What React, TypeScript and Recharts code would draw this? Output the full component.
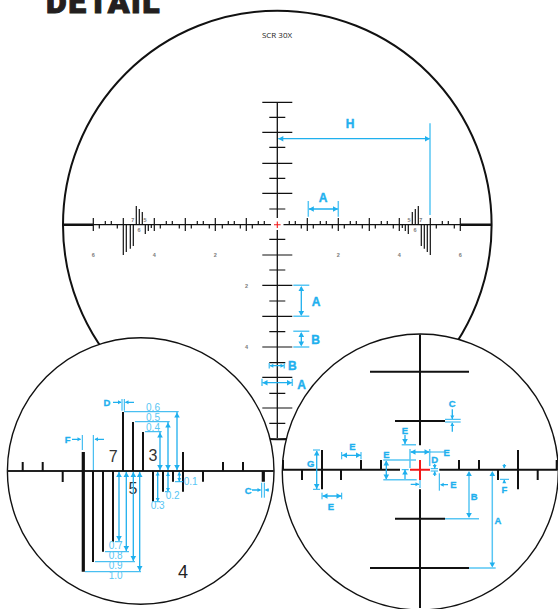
import React from 'react';
import { ComposedChart, Line, Scatter, XAxis, YAxis } from 'recharts';

const W = 558;
const H = 609;
const BLACK = '#111111';
const BLUE = '#1fb0ee';
const LIGHT = '#58c6f4';
const RED = '#f01818';
const GRAY = '#7a7a7a';

type Seg = number[];

// Main reticle: x / y marks, read in picture units
const mainMajorX = [93.3, 123.3, 154.3, 185.3, 215.3, 246.3, 307.3, 338.3, 369.3, 399.3, 430.3, 460.3];
const mainUpX = [105.3, 111.3, 166.3, 172.3, 197.3, 203.3, 228.3, 234.3, 258.3, 264.3, 289.3, 295.3, 320.3, 326.3, 350.3, 356.3, 381.3, 387.3, 442.3, 448.3];
const mainDownX = [99.3, 117.3, 160.3, 179.3, 191.3, 209.3, 222.3, 240.3, 252.3, 301.3, 313.3, 332.3, 344.3, 362.3, 375.3, 393.3, 436.3, 454.3];
const mainLongY = [102.3, 132.3, 163.3, 193.3, 255, 285.3, 316.3, 347, 377.3, 408];
const mainShortY = [117.3, 147.3, 178.3, 209, 239.3, 270, 301, 331.7, 362.7, 393.3, 423.3];
const mainFineUp: Seg[] = [[136.3, 206], [139.3, 209], [142.3, 212], [412.3, 212], [415.3, 209], [418.3, 206]];
const mainFineDown: Seg[] = [[151.3, 228], [148.3, 231], [145.3, 234], [133.3, 246], [130.3, 248.7], [126.3, 252], [123.3, 255], [402.3, 228], [405.3, 231], [408.3, 234], [421.3, 246], [424.3, 248.7], [427.3, 252], [430.3, 255]];
const mainFrame: Seg[] = [[63, 224.7, 271, 224.7], [283.5, 224.7, 491.5, 224.7], [277.3, 102.3, 277.3, 218], [277.3, 230, 277.3, 438]];
const mainHeavy: Seg[] = [[63, 224.7, 93.3, 224.7], [460.3, 224.7, 491.5, 224.7]];
const mainRed: Seg[] = [[274, 224.7, 280.6, 224.7], [277.3, 221.5, 277.3, 228]];

// Left inset
const leftAxis: Seg[] = [[7.5, 471, 274, 471]];
const leftFine: Seg[] = [
  [22.7, 462, 22.7, 471], [42.7, 462, 42.7, 471], [62.7, 471, 62.7, 482],
  [93, 471, 93, 562], [103, 471, 103, 551.7], [113, 471, 113, 541.7],
  [123, 412, 123, 471], [133, 422, 133, 471], [143, 432, 143, 471],
  [153, 471, 153, 501.7], [163, 471, 163, 491.7], [173, 471, 173, 481.7],
  [183, 452, 183, 491.7], [203, 471, 203, 481.7], [223, 462, 223, 471], [243, 462, 243, 471],
];
const leftBold: Seg[] = [[83.3, 452, 83.3, 571.7], [263.3, 471, 263.3, 481.7]];

// Right inset
const rightAxis: Seg[] = [[282.5, 469.7, 400, 469.7], [439.3, 469.7, 557.5, 469.7], [420, 334.5, 420, 445.3], [420, 489.3, 420, 608]];
const rightBars: Seg[] = [[370, 371.7, 469, 371.7], [395, 421, 445, 421], [395, 518.7, 445, 518.7], [370, 568, 469, 568]];
const rightTicks: Seg[] = [
  [283, 460, 283, 470], [302, 470, 302, 480], [322, 450, 322, 489.3], [341, 470, 341, 480], [361, 460, 361, 470], [381, 460, 381, 470],
  [459, 460, 459, 470], [479, 460, 479, 470], [498, 470, 498, 480], [518, 450, 518, 489.3], [537.7, 470, 537.7, 480], [556.7, 460, 556.7, 470],
];
const rightRed: Seg[] = [[410, 469.7, 430, 469.7], [420, 460, 420, 480]];

// Blue dimension lines
const dimStrong: Seg[] = [
  [278.3, 138.7, 430, 138.7], [308.3, 209, 338.3, 209], [301.3, 287, 301.3, 315], [301.3, 333, 301.3, 345],
  [269.3, 365.7, 284.3, 365.7], [262, 382.7, 292.3, 382.7],
  [177, 412, 177, 470], [168, 422, 168, 470], [160, 432, 160, 470], [179.3, 472, 179.3, 481.7], [168, 472, 168, 491], [157.7, 472, 157.7, 501],
  [119, 472, 119, 541], [126.3, 472, 126.3, 551], [133.3, 472, 133.3, 561], [139.7, 472, 139.7, 571],
  [113, 402.3, 121, 402.3], [125.5, 402.3, 134, 402.3], [72, 439.3, 80.5, 439.3], [95, 439.3, 104, 439.3], [252, 490, 260.5, 490], [265.5, 490, 269, 490],
  [316.7, 451, 316.7, 489], [342, 455.3, 361, 455.3], [322.5, 496, 341.5, 496], [386.3, 461, 386.3, 479],
  [405, 435, 405, 444], [410.5, 452, 429.5, 452], [405, 469.5, 405, 479.3], [410.7, 484.3, 419, 484.3], [440.7, 484.7, 448, 484.7],
  [434.7, 464, 434.7, 468.5], [434.7, 471.5, 434.7, 476], [452.3, 409.3, 452.3, 419], [452.3, 423, 452.3, 431.7],
  [504.3, 464, 504.3, 468], [504.3, 480, 504.3, 483],
];
const dimLight: Seg[] = [
  [430, 123.3, 430, 215], [308.3, 201, 308.3, 216.7], [338.3, 201, 338.3, 216.7],
  [293.3, 285.3, 309.3, 285.3], [293.3, 316.3, 309.3, 316.3], [293.3, 331.3, 309.3, 331.3], [293.3, 347, 309.3, 347],
  [269.3, 363, 269.3, 368.5], [284.3, 363, 284.3, 368.5], [262, 378.7, 262, 386], [292.3, 378.7, 292.3, 386],
  [410, 449, 410, 468], [429.7, 449, 429.7, 466],
  [383.3, 460, 416, 460], [383.3, 479.7, 416.7, 479.7], [401.7, 444.7, 416, 444.7],
  [445, 518.7, 479, 518.7], [469, 568, 495.7, 568], [469, 473, 469, 517], [492.3, 473, 492.3, 566],
];
const dimFine: Seg[] = [
  [124, 411.7, 178.7, 411.7], [135, 421.7, 169.7, 421.7], [145, 431.7, 161.7, 431.7],
  [175, 481.7, 183, 481.7], [165, 491.7, 170, 491.7], [155, 501.7, 160, 501.7],
  [115, 541.7, 122, 541.7], [105, 551.7, 129, 551.7], [95, 561.7, 135, 561.7], [85, 571.7, 141, 571.7],
  [122, 399, 122, 410.7], [124.3, 399, 124.3, 410.7], [82.3, 435, 82.3, 450], [93.3, 435, 93.3, 470],
  [261.7, 482.7, 261.7, 497.7], [264.3, 482.7, 264.3, 497.7],
  [313, 450, 320, 450], [313, 489.3, 320, 489.3],
  [341.7, 452, 341.7, 459.3], [361, 452, 361, 459.3], [322, 492.7, 322, 499.3], [341.7, 492.7, 341.7, 499.3],
  [430, 452, 445, 452], [401.7, 469.7, 408.7, 469.7], [420, 480, 420, 488], [439.3, 473.3, 439.3, 490.7],
  [430.7, 468.7, 438, 468.7], [430.7, 471, 438, 471], [445, 419.3, 460.7, 419.3], [445, 422, 460.7, 422], [500, 479.3, 509, 479.3],
];

// Arrow heads: x, y, direction in degrees (0 = pointing right)
const bigHeads: Seg[] = [
  [278.3, 138.7, 180], [430, 138.7, 0], [308.8, 209, 180], [338, 209, 0], [301.3, 286, 270], [301.3, 316, 90], [301.3, 332, 270], [301.3, 346.5, 90],
  [262.5, 382.7, 180], [292, 382.7, 0], [316.7, 450.5, 270], [316.7, 489, 90], [342, 455.3, 180], [361, 455.3, 0], [322.5, 496, 180], [341.5, 496, 0],
  [386.3, 460.5, 270], [386.3, 479.5, 90], [405, 444, 90], [410.5, 452, 180], [429.5, 452, 0], [405, 469.5, 270],
  [469, 471, 270], [469, 518, 90], [492.3, 471, 270], [492.3, 567.5, 90], [177, 412.5, 270], [177, 470, 90], [168, 422.5, 270], [168, 470, 90],
  [160, 432.5, 270], [160, 470, 90], [119, 472, 270], [119, 541, 90], [126.3, 472, 270], [126.3, 551, 90], [133.3, 472, 270], [133.3, 561, 90], [139.7, 472, 270], [139.7, 571, 90],
];
const smallHeads: Seg[] = [
  [269.8, 365.7, 180], [284, 365.7, 0], [121.5, 402.3, 0], [125, 402.3, 180], [81, 439.3, 0], [94.5, 439.3, 180], [261, 490, 0], [265, 490, 180],
  [179.3, 472, 270], [179.3, 481.5, 90], [168, 472.5, 270], [168, 491.5, 90], [157.7, 472, 270], [157.7, 501.5, 90],
  [419, 484.3, 0], [440.2, 484.7, 180], [434.7, 468.5, 90], [434.7, 471.2, 270], [452.3, 419, 90], [452.3, 422.5, 270], [504.3, 468.5, 90], [504.3, 479.7, 270],
];

// Text lists: x, y, label
const blueBold: [number, number, string][] = [
  [350, 124, 'H'], [323, 198, 'A'], [316, 301.7, 'A'], [315.7, 339.7, 'B'], [292.3, 365.7, 'B'], [301.7, 385, 'A'],
];
const blueInset: [number, number, string][] = [
  [107, 402.5, 'D'], [67.7, 439.5, 'F'], [248.3, 490, 'C'], [310.7, 463.3, 'G'], [352.3, 446, 'E'], [331, 506, 'E'], [386.3, 454, 'E'], [405, 430.7, 'E'],
  [446.7, 452.3, 'E'], [453.3, 484.7, 'E'], [434.7, 459, 'D'], [452.3, 403.3, 'C'], [474.3, 496, 'B'], [498, 520, 'A'], [504.3, 489.5, 'F'],
];
const blueNumbers: [number, number, string][] = [
  [153, 407.3, '0.6'], [153, 417.3, '0.5'], [153, 427.7, '0.4'], [190.7, 481.7, '0.1'], [172.7, 495.7, '0.2'], [157.7, 505.7, '0.3'],
  [115.7, 545.7, '0.7'], [115.7, 555.7, '0.8'], [115.7, 565.7, '0.9'], [115.7, 575.7, '1.0'],
];
const reticleDigits: [number, number, string][] = [
  [132.7, 219.7, '7'], [145, 219.7, '5'], [139, 229.7, '6'], [409, 219.7, '5'], [420.7, 219.7, '7'], [415, 229.7, '6'],
  [93.3, 255.3, '6'], [154.3, 255.3, '4'], [215.3, 255.3, '2'], [338.3, 255.3, '2'], [399.3, 255.3, '4'], [460.3, 255.3, '6'],
  [246.5, 285.6, '2'], [246.5, 347, '4'],
];
const insetDigits: [number, number, string][] = [[113.3, 456.7, '7'], [133, 488.3, '5'], [153, 455, '3']];
const zoomLevel: [number, number, string][] = [[183, 572, '4']];
const caption: [number, number, string][] = [[277, 34, 'SCR 30X']];
const heading: [number, number, string][] = [[103.5, 1.5, 'DETAIL']];

const circleMain = { x: 277.3, y: 225, r: 214.3 };
const circleLeft = { x: 140.7, y: 471, r: 133.3 };
const circleRight = { x: 420.3, y: 472, r: 138 };

const mainTickSegs: Seg[] = [
  ...mainMajorX.map((x) => [x, 218, x, 231]),
  ...mainUpX.map((x) => [x, 221, x, 224.7]),
  ...mainDownX.map((x) => [x, 224.7, x, 228.5]),
  ...mainLongY.map((y) => [262.3, y, 292.3, y]),
  ...mainShortY.map((y) => [269.3, y, 285.3, y]),
  ...mainFineUp.map(([x, y]) => [x, y, x, 224.7]),
  ...mainFineDown.map(([x, y]) => [x, 224.7, x, y]),
];

// A run of separate strokes, with a null between strokes so that the line breaks there
const rows = (segs: Seg[]) =>
  segs.flatMap(([x1, y1, x2, y2]) => [
    { x: x1, y: y1 },
    { x: x2, y: y2 },
    { x: x2, y: null as number | null },
  ]);

const textRows = (items: [number, number, string][]) => items.map(([x, y, t]) => ({ x, y, t }));
const headRows = (items: Seg[]) => items.map(([x, y, a]) => ({ x, y, a }));

const strokes = (name: string, segs: Seg[], color: string, width: number, z: number) => (
  <Line
    key={name}
    name={name}
    data={rows(segs)}
    dataKey="y"
    stroke={color}
    strokeWidth={width}
    dot={false}
    activeDot={false}
    legendType="none"
    connectNulls={false}
    isAnimationActive={false}
    type="linear"
    zIndex={z}
  />
);

const labels = (
  name: string,
  items: [number, number, string][],
  style: { color: string; size: number; weight: number | string; family: string; spacing?: number; thick?: number },
  z: number,
) => (
  <Scatter
    key={name}
    name={name}
    data={textRows(items)}
    isAnimationActive={false}
    zIndex={z}
    shape={(p: any) => (
      <text
        x={p.cx}
        y={p.cy}
        textAnchor="middle"
        dominantBaseline="central"
        fill={style.color}
        stroke={style.thick ? style.color : 'none'}
        strokeWidth={style.thick ?? 0}
        fontSize={style.size}
        fontWeight={style.weight}
        fontFamily={style.family}
        letterSpacing={style.spacing ?? 0}
      >
        {p.payload.t}
      </text>
    )}
  />
);

const heads = (name: string, items: Seg[], len: number, half: number, z: number) => (
  <Scatter
    key={name}
    name={name}
    data={headRows(items)}
    isAnimationActive={false}
    zIndex={z}
    shape={(p: any) => (
      <path
        d={`M0 0L${-len} ${-half}L${-len} ${half}Z`}
        fill={BLUE}
        transform={`translate(${p.cx} ${p.cy}) rotate(${p.payload.a})`}
      />
    )}
  />
);

const ring = (name: string, c: { x: number; y: number; r: number }, width: number, fill: string, z: number) => (
  <Scatter
    key={name}
    name={name}
    data={[{ x: c.x, y: c.y }]}
    isAnimationActive={false}
    zIndex={z}
    shape={(p: any) => <circle cx={p.cx} cy={p.cy} r={c.r} fill={fill} stroke="#111111" strokeWidth={width} />}
  />
);

const SANS = '"Liberation Sans", Arial, sans-serif';
const NARROW = '"Liberation Sans Narrow", "Liberation Sans", sans-serif';

export default function App() {
  return (
    <div style={{ position: 'absolute', left: 0, top: 0, width: W, height: H, background: '#ffffff' }}>
      <ComposedChart width={W} height={H} margin={{ top: 0, right: 0, bottom: 0, left: 0 }}>
        <XAxis type="number" dataKey="x" domain={[0, W]} hide allowDataOverflow />
        <YAxis type="number" dataKey="y" domain={[0, H]} reversed hide allowDataOverflow width={0} />
        {labels('heading', heading, { color: '#231f20', size: 32, weight: 900, family: 'Roboto, Lato, sans-serif', spacing: 1.5, thick: 1 }, 100)}
        {ring('main circle', circleMain, 2, 'none', 101)}
        {labels('caption', caption, { color: '#222222', size: 8, weight: 400, family: '"Open Sans", sans-serif' }, 102)}
        {strokes('main frame', mainFrame, BLACK, 1.3, 103)}
        {strokes('main ticks', mainTickSegs, BLACK, 1.2, 104)}
        {strokes('main heavy', mainHeavy, BLACK, 2.4, 105)}
        {strokes('main red', mainRed, RED, 1.1, 106)}
        {labels('reticle digits', reticleDigits, { color: GRAY, size: 5.5, weight: 700, family: SANS }, 107)}
        {ring('left disc', circleLeft, 1.4, '#ffffff', 110)}
        {ring('right disc', circleRight, 1.4, '#ffffff', 111)}
        {strokes('left axis', leftAxis, '#222222', 2.2, 112)}
        {strokes('left ticks', leftFine, BLACK, 2, 113)}
        {strokes('left bold', leftBold, BLACK, 3.2, 114)}
        {strokes('right axis', rightAxis, BLACK, 2, 115)}
        {strokes('right bars', rightBars, BLACK, 2, 116)}
        {strokes('right ticks', rightTicks, BLACK, 2, 117)}
        {strokes('right red', rightRed, RED, 2, 118)}
        {labels('inset digits', insetDigits, { color: '#333333', size: 16, weight: 400, family: NARROW }, 119)}
        {labels('zoom level', zoomLevel, { color: '#222222', size: 18, weight: 400, family: NARROW }, 120)}
        {strokes('dim strong', dimStrong, BLUE, 1.3, 121)}
        {strokes('dim light', dimLight, LIGHT, 1.5, 122)}
        {strokes('dim fine', dimFine, BLUE, 1, 123)}
        {heads('big heads', bigHeads, 5, 2.8, 124)}
        {heads('small heads', smallHeads, 3.5, 2, 125)}
        {labels('blue bold', blueBold, { color: BLUE, size: 12, weight: 700, family: SANS, thick: 0.4 }, 126)}
        {labels('blue inset', blueInset, { color: BLUE, size: 9.5, weight: 700, family: SANS, thick: 0.3 }, 127)}
        {labels('blue numbers', blueNumbers, { color: LIGHT, size: 10, weight: 400, family: SANS }, 128)}
      </ComposedChart>
    </div>
  );
}
